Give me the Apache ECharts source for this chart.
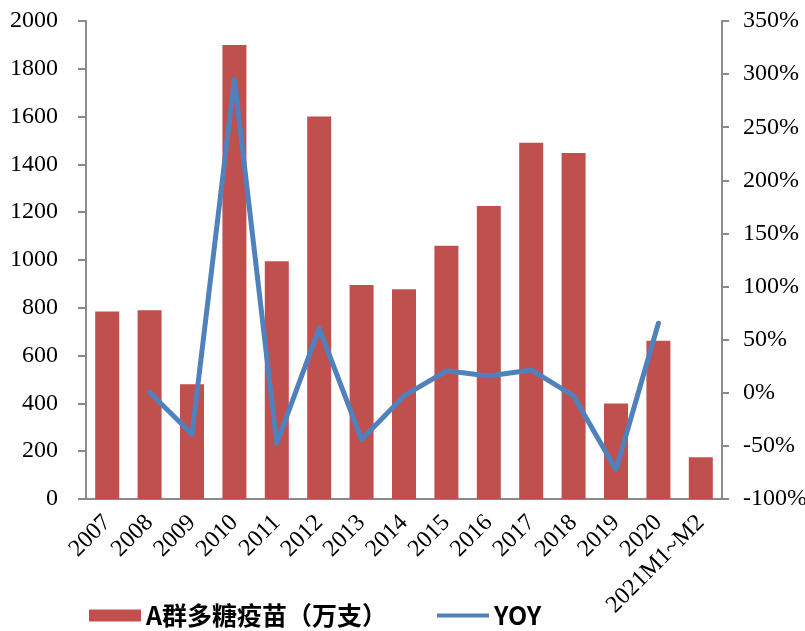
<!DOCTYPE html>
<html>
<head>
<meta charset="utf-8">
<script src="https://cdn.jsdelivr.net/npm/echarts@6/dist/echarts.min.js"></script>
<style>
html,body{margin:0;padding:0;background:#fff;}
#chart{width:805px;height:631px;}
</style>
</head>
<body>
<div id="chart"></div>
<script>
var categories = ['2007','2008','2009','2010','2011','2012','2013','2014','2015','2016','2017','2018','2019','2020','2021M1~M2'];
var volume = [785, 790, 480, 1900, 995, 1600, 895, 878, 1060, 1226, 1491, 1448, 400, 662, 175];
var yoy = [null, 0.5, -39, 295, -47.5, 60.7, -44, -3, 20.7, 15.8, 21.5, -3, -72.5, 65.5, null];
var leftTicks = {min: 0, max: 2000, interval: 200};
var rightTicks = {min: -100, max: 350, interval: 50};
var seriesNames = ['A群多糖疫苗（万支）', 'YOY'];

var chart = echarts.init(document.getElementById('chart'), null, {renderer: 'canvas'});
var serif = 'Liberation Serif, Times New Roman, serif';
var axisGray = '#8a8a8a';
chart.setOption({
  animation: false,
  backgroundColor: '#ffffff',
  grid: {left: 86, right: 83, top: 21, bottom: 132, containLabel: false, outerBoundsMode: 'none'},
  legend: {
    left: 84, top: 598,
    itemGap: 50,
    itemWidth: 52, itemHeight: 12,
    itemTextGap: 5,
    textStyle: {fontFamily: 'Noto Sans CJK SC', fontWeight: 'bold', fontSize: 25, color: '#000'},
    data: [
      {name: seriesNames[0], icon: 'rect', itemStyle: {borderWidth: 0}},
      {name: seriesNames[1], icon: 'path://M0,0 L52,0 L52,4 L0,4 Z'}
    ]
  },
  xAxis: {
    type: 'category',
    data: categories,
    axisLine: {lineStyle: {color: axisGray, width: 2}},
    axisTick: {show: false},
    axisLabel: {rotate: 45, fontFamily: serif, fontSize: 24, color: '#000', margin: 20, interval: 0}
  },
  yAxis: [
    {
      type: 'value', min: leftTicks.min, max: leftTicks.max, interval: leftTicks.interval,
      splitLine: {show: false},
      axisLine: {show: true, lineStyle: {color: axisGray, width: 2}},
      axisTick: {show: true, length: 8, lineStyle: {color: axisGray, width: 2}},
      axisLabel: {fontFamily: serif, fontSize: 24, color: '#000', margin: 28, formatter: function (v) { return String(v); }}
    },
    {
      type: 'value', min: rightTicks.min, max: rightTicks.max, interval: rightTicks.interval,
      position: 'right',
      splitLine: {show: false},
      axisLine: {show: true, lineStyle: {color: axisGray, width: 2}},
      axisTick: {show: true, length: 7, lineStyle: {color: axisGray, width: 2}},
      axisLabel: {fontFamily: serif, fontSize: 24, color: '#000', margin: 21, formatter: '{value}%'}
    }
  ],
  series: [
    {
      name: seriesNames[0], type: 'bar', data: volume, yAxisIndex: 0,
      barWidth: 24,
      itemStyle: {color: '#C0504D'}
    },
    {
      name: seriesNames[1], type: 'line', data: yoy, yAxisIndex: 1,
      symbol: 'none', showSymbol: false,
      lineStyle: {color: '#4F81BD', width: 5, cap: 'round', join: 'round'},
      itemStyle: {color: '#4F81BD'}
    }
  ]
});
</script>
</body>
</html>
